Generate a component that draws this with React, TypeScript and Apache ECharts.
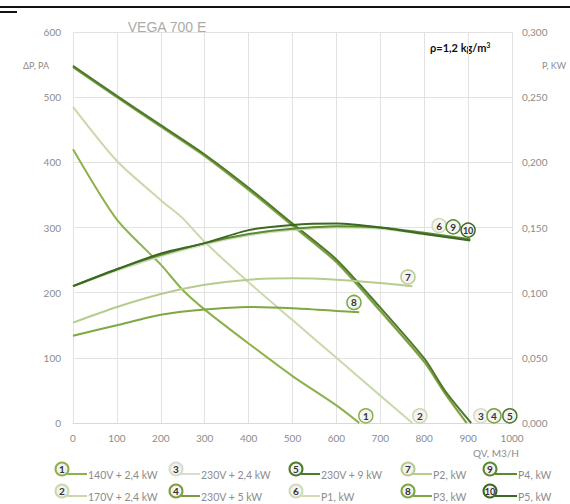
import React, { useEffect, useRef } from "react";
import * as echarts from "echarts";

// ---- data ----
const q1 = [0, 100, 200, 250, 300, 400, 500, 600, 652];
const dp1 = [420, 312, 243, 204, 174, 122, 72, 27, 0];
const q2 = [0, 100, 200, 250, 300, 400, 500, 600, 700, 773];
const dp2 = [485, 402, 342, 314, 278, 216, 158, 100, 42, 0];
const q3 = [0, 100, 200, 300, 400, 500, 600, 700, 800, 850, 895];
const dp3 = [546, 500, 454, 409, 357, 302, 246, 171, 93, 42, 0];
const q4 = [0, 100, 200, 300, 400, 500, 600, 700, 800, 850, 897];
const dp4 = [546, 500, 455, 410, 358, 303, 247, 172, 94, 43, 0];
const q5 = [0, 100, 200, 300, 400, 500, 600, 700, 800, 850, 907];
const dp5 = [548, 502, 457, 412, 361, 306, 251, 177, 99, 47, 0];

const qP1 = [0, 100, 200, 300, 400, 500, 600, 700, 800, 900];
const pw1 = [0.105, 0.117, 0.128, 0.137, 0.144, 0.148, 0.15, 0.149, 0.145, 0.141];
const qP2 = [0, 100, 200, 300, 400, 500, 600, 700, 773];
const pw2 = [0.077, 0.089, 0.099, 0.106, 0.11, 0.111, 0.11, 0.1075, 0.105];
const qP3 = [0, 100, 200, 300, 400, 500, 600, 652];
const pw3 = [0.067, 0.075, 0.083, 0.087, 0.089, 0.088, 0.086, 0.085];
const qP4 = [0, 100, 200, 300, 400, 500, 600, 700, 800, 905];
const pw4 = [0.105, 0.118, 0.129, 0.138, 0.145, 0.149, 0.151, 0.15, 0.146, 0.141];
const qP5 = [0, 100, 200, 300, 400, 500, 600, 700, 800, 905];
const pw5 = [0.105, 0.118, 0.13, 0.138, 0.148, 0.152, 0.153, 0.15, 0.145, 0.14];

const seriesNames = [
  "140V + 2,4 kW",
  "170V + 2,4 kW",
  "230V + 2,4 kW",
  "230V + 5 kW",
  "230V + 9 kW",
  "P1, kW",
  "P2, kW",
  "P3, kW",
  "P4, kW",
  "P5, kW",
];
const colors = [
  "#8db14b",
  "#c9d9aa",
  "#d6ddca",
  "#7b9d3d",
  "#4e7a2c",
  "#cfdcb6",
  "#b7cb8e",
  "#7ea842",
  "#5b8b31",
  "#3c6922",
];
// curve-end number badges, in data units of each series' own axis
const badgeAt: [number, number][] = [
  [667, 11],
  [790, 11],
  [929, 11],
  [959, 11],
  [995, 11],
  [834, 0.1515],
  [763, 0.112],
  [640, 0.0925],
  [866, 0.1505],
  [900, 0.148],
];

const xTicks = { min: 0, max: 1000, interval: 100 };
const yTicks = { min: 0, max: 600, interval: 100 };
const y2Ticks = { min: 0, max: 0.3, interval: 0.05 };

const FONT = "Lato, 'Open Sans', sans-serif";
const GRAY = "#8c8c8c";

const zip = (a: number[], b: number[]) => a.map((v, i) => [v, b[i]]);

export default function App() {
  const ref = useRef<HTMLDivElement>(null);
  useEffect(() => {
    if (!ref.current) return;
    const chart = echarts.init(ref.current, null, { renderer: "svg" });
    const xs = [q1, q2, q3, q4, q5, qP1, qP2, qP3, qP4, qP5];
    const ys = [dp1, dp2, dp3, dp4, dp5, pw1, pw2, pw3, pw4, pw5];
    const drawOrder = [1, 0, 2, 3, 4, 5, 6, 7, 8, 9];

    const series: any[] = drawOrder.map((i) => ({
      type: "line",
      name: seriesNames[i],
      yAxisIndex: i >= 5 ? 1 : 0,
      data: zip(xs[i], ys[i]),
      smooth: 0.25,
      showSymbol: false,
      symbol: "none",
      lineStyle: { color: colors[i], width: 2 },
      itemStyle: { color: colors[i] },
      z: 2 + i,
      markPoint: {
        symbol: "circle",
        symbolSize: 14,
        silent: true,
        itemStyle: { color: "#f4f4f4", borderColor: colors[i], borderWidth: 1.5 },
        label: {
          show: true,
          position: "inside",
          formatter: String(i + 1),
          color: "#333",
          fontSize: i === 9 ? 9 : 10,
          fontFamily: FONT,
          fontWeight: "bold",
        },
        data: [{ coord: badgeAt[i] }],
      },
    }));

    // legend drawn as graphic (numbered circle + line + text)
    const colX = [62, 176, 296, 408, 490];
    const textX = [88, 201, 321, 433, 518];
    const rowY = [469, 491];
    const graphic: any[] = [
      { type: "rect", shape: { x: 0, y: 6, width: 570, height: 2 }, style: { fill: "#111" } },
      { type: "rect", shape: { x: 0, y: 11, width: 17, height: 2 }, style: { fill: "#111" } },
      {
        type: "text",
        x: 167,
        y: 27,
        style: {
          text: "VEGA 700 E",
          fill: "#ababab",
          font: "14px 'Liberation Sans', Arial, sans-serif",
          textAlign: "center",
          textVerticalAlign: "middle",
        },
      },
      {
        type: "text",
        x: 36,
        y: 65,
        style: { text: "ΔP, PA", fill: GRAY, font: `9px ${FONT}`, textAlign: "center", textVerticalAlign: "middle" },
      },
      {
        type: "text",
        x: 554,
        y: 65,
        style: { text: "P, KW", fill: GRAY, font: `9px ${FONT}`, textAlign: "center", textVerticalAlign: "middle" },
      },
      {
        type: "text",
        x: 496,
        y: 453,
        style: { text: "QV, M3/H", fill: GRAY, font: `10px ${FONT}`, textAlign: "center", textVerticalAlign: "middle" },
      },
      {
        type: "text",
        x: 430,
        y: 47,
        style: {
          rich: {
            b: { fontFamily: FONT, fontSize: 11, fontWeight: "bold", fill: "#111" },
            s: { fontFamily: FONT, fontSize: 7, fontWeight: "bold", fill: "#111", verticalAlign: "top" },
          },
          text: "{b|ρ=1,2 kg/m}{s|3}",
          textAlign: "left",
          textVerticalAlign: "middle",
        },
      },
    ];
    for (let i = 0; i < 10; i++) {
      const c = Math.floor(i / 2);
      const r = i % 2;
      const cx = colX[c];
      const cy = rowY[r];
      graphic.push({
        type: "line",
        shape: { x1: cx + 5, y1: cy + 5, x2: textX[c] - 1, y2: cy + 5 },
        style: { stroke: colors[i], lineWidth: 2 },
      });
      graphic.push({
        type: "circle",
        shape: { cx, cy, r: 6.5 },
        style: { fill: "#f2f2f2", stroke: colors[i], lineWidth: 2 },
      });
      graphic.push({
        type: "text",
        x: cx,
        y: cy,
        style: {
          text: String(i + 1),
          fill: "#333",
          font: `bold ${i === 9 ? 9 : 10}px ${FONT}`,
          textAlign: "center",
          textVerticalAlign: "middle",
        },
      });
      graphic.push({
        type: "text",
        x: textX[c],
        y: cy + 6,
        style: {
          text: seriesNames[i],
          fill: GRAY,
          font: `10.5px ${FONT}`,
          textAlign: "left",
          textVerticalAlign: "middle",
        },
      });
    }

    const split = { show: true, lineStyle: { color: "#e2e2e2", width: 1 } };
    chart.setOption({
      animation: false,
      backgroundColor: "#ffffff",
      grid: { left: 73, top: 32, width: 439, height: 391 },
      xAxis: {
        type: "value",
        ...xTicks,
        axisLine: { show: true, lineStyle: { color: "#d9d9d9" } },
        axisTick: { show: false },
        axisLabel: {
          color: GRAY,
          fontSize: 10,
          fontFamily: FONT,
          margin: 10,
          formatter: (v: number) => String(v),
        },
        splitLine: split,
      },
      yAxis: [
        {
          type: "value",
          ...yTicks,
          axisLine: { show: false },
          axisTick: { show: false },
          axisLabel: { color: GRAY, fontSize: 10, fontFamily: FONT, margin: 12 },
          splitLine: split,
        },
        {
          type: "value",
          position: "right",
          ...y2Ticks,
          axisLine: { show: false },
          axisTick: { show: false },
          axisLabel: {
            color: GRAY,
            fontSize: 10,
            fontFamily: FONT,
            margin: 10,
            formatter: (v: number) => v.toFixed(3).replace(".", ","),
          },
          splitLine: { show: false },
        },
      ],
      series,
      graphic,
    });
    return () => chart.dispose();
  }, []);
  return (
    <div
      ref={ref}
      style={{ position: "absolute", left: 0, top: 0, width: 570, height: 504, background: "#fff" }}
    />
  );
}
